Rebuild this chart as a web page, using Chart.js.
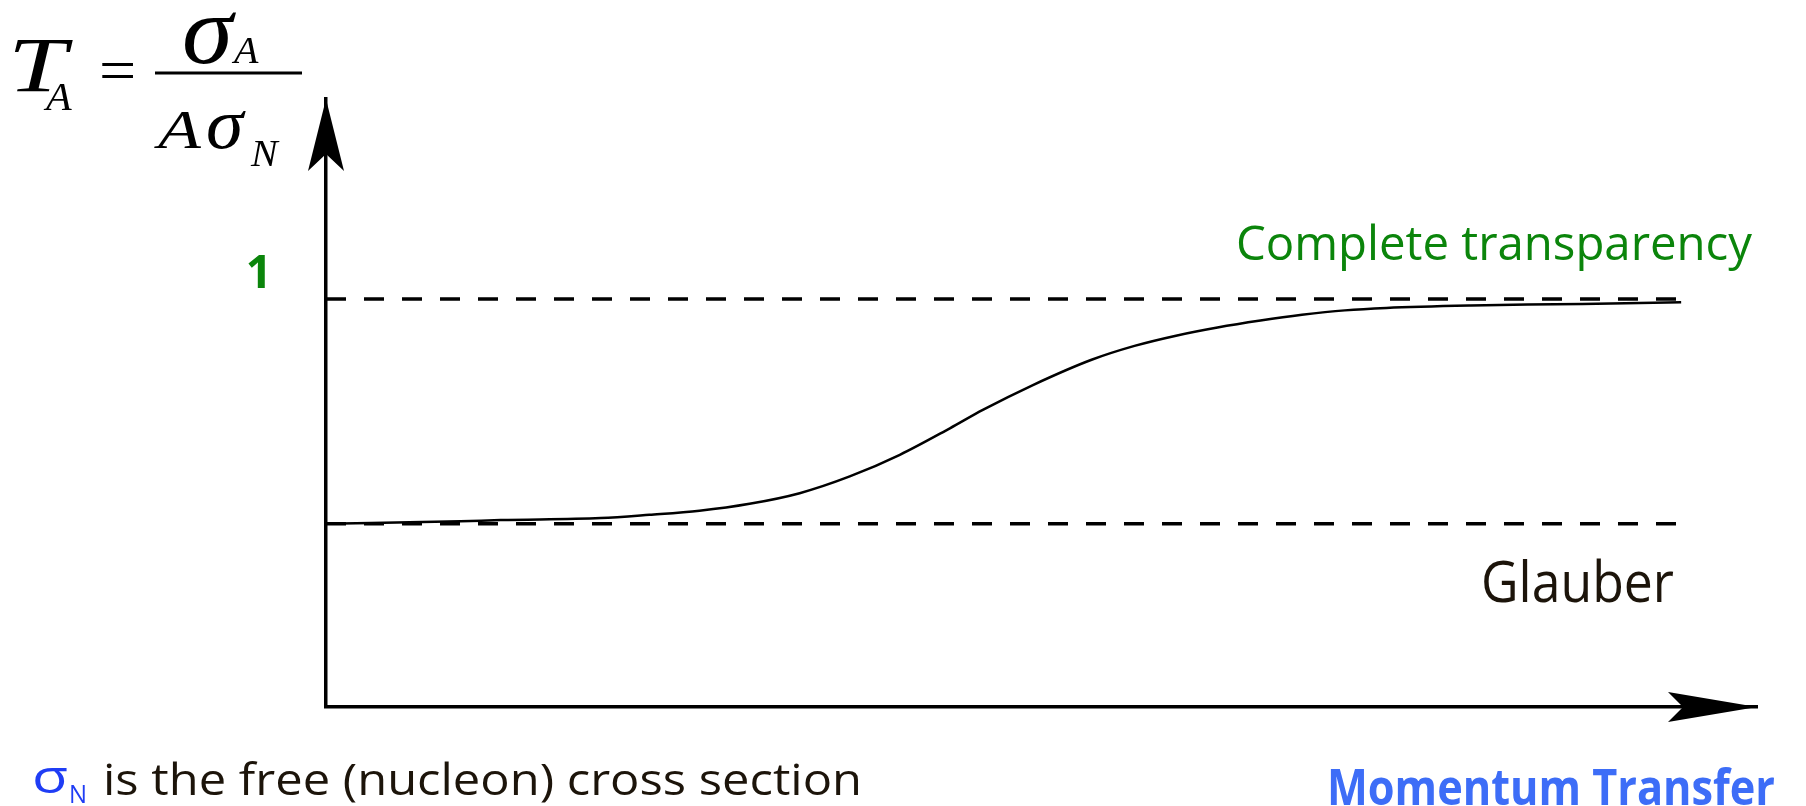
<!DOCTYPE html>
<html>
<head>
<meta charset="utf-8">
<title>Nuclear transparency</title>
<script src="https://cdn.jsdelivr.net/npm/chart.js@4.4.1/dist/chart.umd.min.js"></script>
<style>
  html, body { margin: 0; padding: 0; background: #fff; overflow: hidden; }
  #chart { display: block; }
</style>
</head>
<body>
<canvas id="chart" width="1806" height="806"></canvas>
<script>
// Momentum transfer (arbitrary units) and T_A
const momentumTransfer = [0, 0.94, 1.22, 1.92, 2.26, 2.61, 2.96, 3.31, 3.66, 4.01, 4.36, 4.59, 4.94, 5.35, 5.65, 5.94, 6.23, 6.53, 6.82, 7.12, 7.41, 8.0, 8.59, 9.18, 9.47];
const transparency = [0.449, 0.455, 0.458, 0.463, 0.471, 0.481, 0.498, 0.524, 0.565, 0.618, 0.683, 0.728, 0.789, 0.851, 0.885, 0.91, 0.93, 0.947, 0.961, 0.972, 0.978, 0.984, 0.987, 0.99, 0.992];

// Reference levels (dashed lines)
const limitRange = [0, 9.55];
const completeLevel = 1;
const glauberLevel = 0.449;

const yTicks = [1];

const HAND = '"Comic Sans MS", "Open Sans", sans-serif';
const SERIF = '"Liberation Serif", "Times New Roman", serif';
const GREEN = '#0b850b';
const INK = '#1c140a';

// draw text stretched so it spans left..right
function fitText(ctx, text, font, color, left, right, baseline) {
    ctx.save();
    ctx.font = font;
    ctx.fillStyle = color;
    ctx.textAlign = 'left';
    ctx.textBaseline = 'alphabetic';
    const w = ctx.measureText(text).width;
    ctx.translate(left, baseline);
    ctx.scale((right - left) / w, 1);
    ctx.fillText(text, 0, 0);
    ctx.restore();
}

// formula glyph with a horizontal stretch factor
function glyph(ctx, text, font, left, baseline, sx) {
    ctx.save();
    ctx.font = font;
    ctx.fillStyle = '#000';
    ctx.textAlign = 'left';
    ctx.textBaseline = 'alphabetic';
    ctx.translate(left, baseline);
    ctx.scale(sx, 1);
    ctx.fillText(text, 0, 0);
    ctx.restore();
}

const annotations = {
    id: 'annotations',
    afterDraw(chart) {
        const ctx = chart.ctx;
        const { left, top, right, bottom } = chart.chartArea;

        // arrow heads on the axes
        ctx.save();
        ctx.fillStyle = '#000';
        ctx.beginPath();
        ctx.moveTo(left, top);
        ctx.lineTo(left + 18, top + 72);
        ctx.lineTo(left, top + 55);
        ctx.lineTo(left - 18, top + 72);
        ctx.closePath();
        ctx.fill();
        ctx.beginPath();
        ctx.moveTo(right, bottom);
        ctx.lineTo(right - 89, bottom - 15);
        ctx.lineTo(right - 74, bottom);
        ctx.lineTo(right - 89, bottom + 15);
        ctx.closePath();
        ctx.fill();
        ctx.restore();

        // formula T_A = sigma_A / (A sigma_N)
        glyph(ctx, 'T', 'italic 78px ' + SERIF, 8, 91, 1.35);
        glyph(ctx, 'A', 'italic 40px ' + SERIF, 46, 110, 1.05);
        glyph(ctx, '=', '60px ' + SERIF, 99, 90, 1.1);
        ctx.fillStyle = '#000';
        ctx.fillRect(155, 71.5, 147, 3);
        glyph(ctx, 'σ', 'italic 98px ' + SERIF, 182, 63, 1.05);
        glyph(ctx, 'A', 'italic 38px ' + SERIF, 234, 63, 1.05);
        glyph(ctx, 'A', 'italic 54px ' + SERIF, 158, 148, 1.3);
        glyph(ctx, 'σ', 'italic 72px ' + SERIF, 206, 148, 1.05);
        glyph(ctx, 'N', 'italic 38px ' + SERIF, 251, 166, 1.05);

        // labels
        fitText(ctx, 'Complete transparency', '48px ' + HAND, GREEN, 1236, 1752, 260);
        fitText(ctx, 'Glauber', '56px ' + HAND, INK, 1481, 1674, 602);
        fitText(ctx, 'Momentum Transfer', 'bold 50px ' + HAND, '#3d6df7', 1327, 1775, 805);

        // footnote
        fitText(ctx, 'σ', '46px ' + HAND, '#1f3df5', 32, 68, 793);
        fitText(ctx, 'N', '26px ' + HAND, '#1f3df5', 69, 87, 803);
        fitText(ctx, 'is the free (nucleon) cross section', '44px ' + HAND, INK, 103, 862, 795);
    }
};

const curve = momentumTransfer.map((q, i) => ({ x: q, y: transparency[i] }));
const completeLine = limitRange.map(q => ({ x: q, y: completeLevel }));
const glauberLine = limitRange.map(q => ({ x: q, y: glauberLevel }));

new Chart(document.getElementById('chart').getContext('2d'), {
    type: 'line',
    data: {
        datasets: [
            {
                label: 'T_A',
                data: curve,
                borderColor: '#000',
                borderWidth: 2.5,
                pointRadius: 0,
                cubicInterpolationMode: 'monotone'
            },
            {
                label: 'Complete transparency',
                data: completeLine,
                borderColor: '#000',
                borderWidth: 3.5,
                borderDash: [20, 18],
                pointRadius: 0
            },
            {
                label: 'Glauber',
                data: glauberLine,
                borderColor: '#000',
                borderWidth: 3.5,
                borderDash: [20, 18],
                pointRadius: 0
            }
        ]
    },
    options: {
        responsive: false,
        animation: false,
        devicePixelRatio: 1,
        layout: { padding: { left: 0, top: 99, right: 49, bottom: 99 } },
        plugins: {
            legend: { display: false },
            tooltip: { enabled: false }
        },
        scales: {
            x: {
                type: 'linear',
                min: 0,
                max: 10,
                grid: { display: false, drawTicks: false },
                border: { display: true, color: '#000', width: 3.5 },
                ticks: { display: false },
                afterFit(scale) { scale.height = 0; }
            },
            y: {
                type: 'linear',
                min: 0,
                max: 1.49,
                grid: { display: false, drawTicks: false },
                border: { display: true, color: '#000', width: 3.5 },
                afterBuildTicks(scale) { scale.ticks = yTicks.map(v => ({ value: v })); },
                afterFit(scale) { scale.width = 326; },
                ticks: {
                    color: GREEN,
                    font: { family: HAND, size: 46, weight: 'bold' },
                    padding: 54,
                    labelOffset: -24,
                    callback: v => String(v)
                }
            }
        }
    },
    plugins: [annotations]
});
</script>
</body>
</html>
